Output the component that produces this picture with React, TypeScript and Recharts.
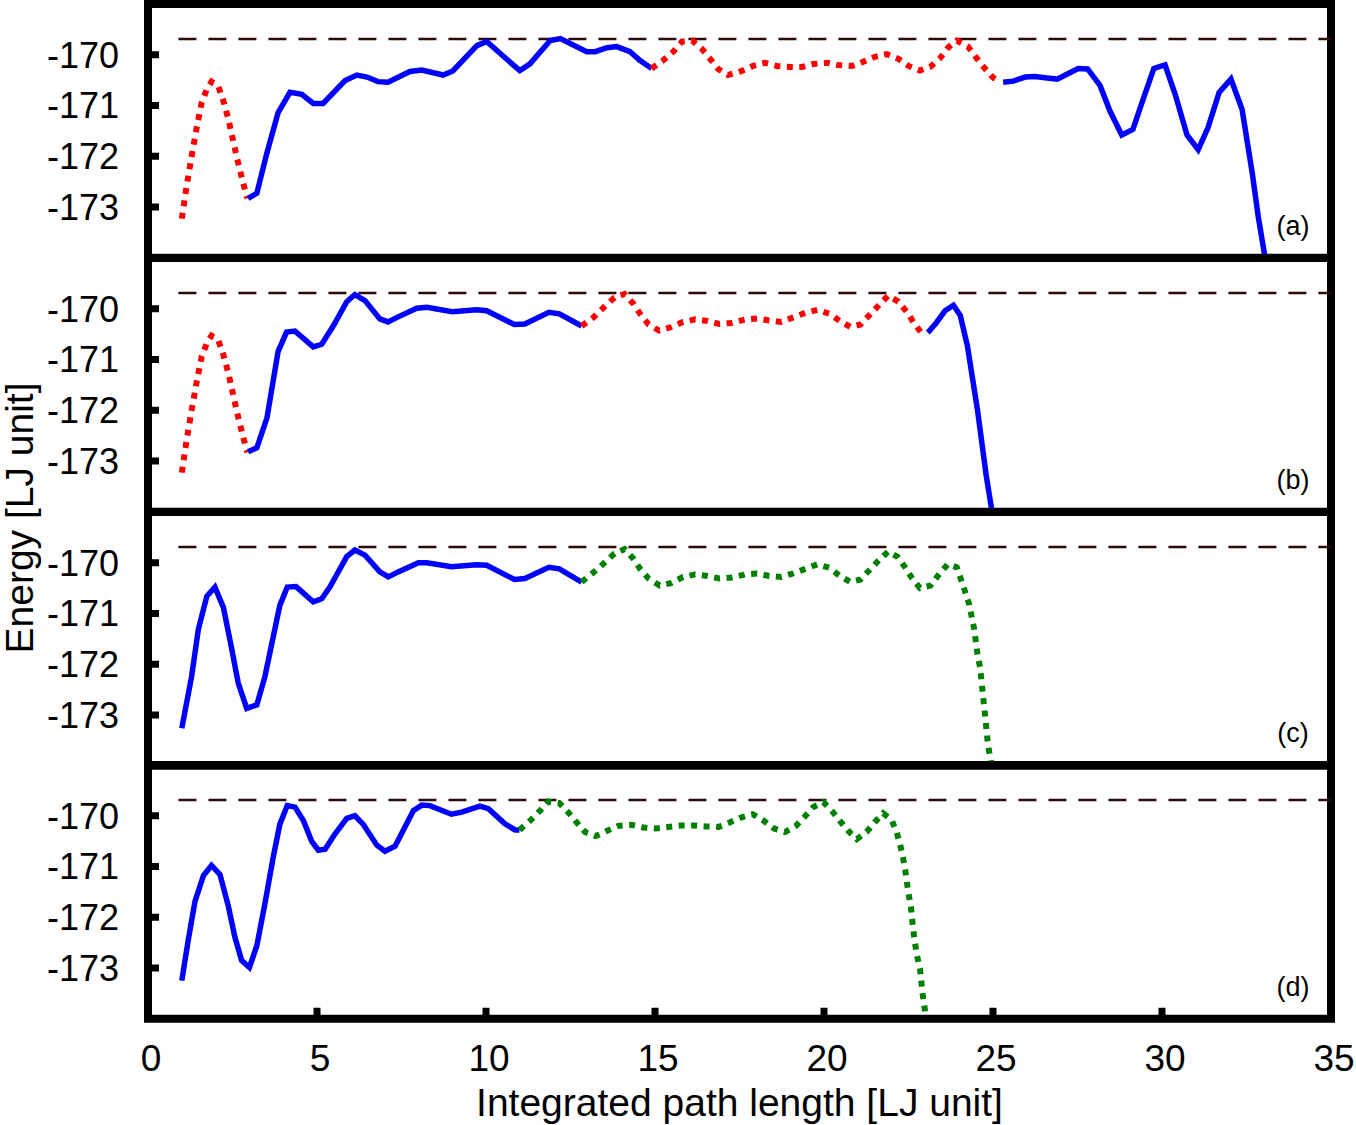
import { LineChart, Line, XAxis, YAxis, ReferenceLine, ReferenceArea } from "recharts";

type Pt = [number, number];

const X_TICKS = [0, 5, 10, 15, 20, 25, 30, 35];
const Y_TICKS = [-173, -172, -171, -170];
const Y_MIN = -174;
const Y_MAX = -169;
const BARRIER = -169.69;
const BARRIER_FROM = 0.9;

// first hump, drawn dotted in (a) and (b)
const humpRed: Pt[] = [
  [1.0, -173.23], [1.14, -172.6], [1.29, -172.0], [1.44, -171.44], [1.59, -170.94],
  [1.74, -170.68], [1.88, -170.53], [2.08, -170.62], [2.23, -170.91], [2.38, -171.27],
  [2.52, -171.7], [2.67, -172.14], [2.82, -172.54], [2.94, -172.83],
];

const aSolid1: Pt[] = [
  [2.96, -172.83], [3.22, -172.73], [3.52, -171.93], [3.85, -171.14], [4.2, -170.74],
  [4.55, -170.78], [4.89, -170.96], [5.18, -170.96], [5.83, -170.51], [6.18, -170.4],
  [6.48, -170.44], [6.8, -170.53], [7.1, -170.54], [7.75, -170.33], [8.1, -170.3],
  [8.73, -170.4], [9.02, -170.32], [9.73, -169.82], [10.02, -169.74], [10.77, -170.18],
  [11.0, -170.31], [11.3, -170.18], [11.9, -169.72], [12.2, -169.68], [12.98, -169.94],
  [13.23, -169.94], [13.58, -169.86], [13.87, -169.84], [14.26, -169.94], [14.55, -170.11],
  [14.9, -170.27],
];

const aDotted2: Pt[] = [
  [14.9, -170.27], [15.24, -170.11], [15.54, -169.94], [15.8, -169.74], [16.1, -169.72],
  [16.38, -169.88], [16.63, -170.08], [16.87, -170.28], [17.16, -170.4], [17.57, -170.32],
  [17.9, -170.22], [18.25, -170.16], [18.6, -170.22], [19.0, -170.24], [19.35, -170.24],
  [19.7, -170.18], [20.1, -170.16], [20.4, -170.2], [20.83, -170.22], [21.15, -170.14],
  [21.5, -170.04], [21.86, -169.99], [22.2, -170.08], [22.5, -170.22], [22.84, -170.31],
  [23.14, -170.24], [23.43, -170.07], [23.67, -169.86], [23.93, -169.72], [24.26, -169.84],
  [24.52, -170.07], [24.76, -170.27], [25.0, -170.45], [25.2, -170.54],
];

const aSolid2: Pt[] = [
  [25.3, -170.54], [25.6, -170.52], [25.95, -170.44], [26.24, -170.43], [26.6, -170.46],
  [26.9, -170.48], [27.2, -170.38], [27.52, -170.27], [27.8, -170.28], [28.17, -170.61],
  [28.46, -171.11], [28.81, -171.58], [29.14, -171.47], [29.44, -170.88], [29.76, -170.27],
  [30.09, -170.2], [30.39, -170.78], [30.74, -171.58], [31.07, -171.87], [31.36, -171.44],
  [31.69, -170.74], [32.04, -170.48], [32.37, -171.08], [32.67, -172.33], [32.85, -173.2],
  [33.05, -174.0],
];

const bSolid1: Pt[] = [
  [2.96, -172.82], [3.22, -172.74], [3.52, -172.15], [3.85, -170.84], [4.1, -170.46],
  [4.35, -170.44], [4.89, -170.75], [5.14, -170.7], [5.48, -170.34], [5.88, -169.86],
  [6.12, -169.72], [6.42, -169.84], [6.86, -170.2], [7.1, -170.26], [7.4, -170.16],
  [7.95, -169.99], [8.25, -169.97], [9.0, -170.06], [9.73, -170.02], [10.02, -170.04],
  [10.84, -170.31], [11.15, -170.3], [11.86, -170.07], [12.17, -170.1], [12.83, -170.34],
];

const bDotted2: Pt[] = [
  [12.83, -170.34], [13.18, -170.17], [13.49, -169.97], [13.8, -169.78], [14.1, -169.71],
  [14.36, -169.9], [14.56, -170.1], [14.81, -170.31], [15.12, -170.43], [15.48, -170.36],
  [15.83, -170.26], [16.19, -170.21], [16.55, -170.24], [16.9, -170.3], [17.26, -170.28],
  [17.67, -170.21], [18.02, -170.19], [18.38, -170.23], [18.74, -170.26], [19.09, -170.17],
  [19.45, -170.08], [19.81, -170.02], [20.16, -170.1], [20.47, -170.24], [20.78, -170.36],
  [21.08, -170.31], [21.38, -170.1], [21.64, -169.92], [21.9, -169.74], [22.2, -169.86],
  [22.46, -170.07], [22.66, -170.28], [22.91, -170.5],
];

const bSolid2: Pt[] = [
  [23.07, -170.47], [23.32, -170.28], [23.58, -170.04], [23.83, -169.93], [24.03, -170.13],
  [24.24, -170.72], [24.54, -171.99], [24.8, -173.29], [25.02, -174.2],
];

const cSolid: Pt[] = [
  [1.0, -173.26], [1.29, -172.24], [1.49, -171.31], [1.74, -170.66], [1.98, -170.48],
  [2.23, -170.88], [2.44, -171.57], [2.67, -172.37], [2.92, -172.87], [3.22, -172.8],
  [3.46, -172.24], [3.9, -170.84], [4.12, -170.48], [4.38, -170.47], [4.89, -170.77],
  [5.14, -170.71], [5.38, -170.48], [5.88, -169.88], [6.12, -169.75], [6.42, -169.85],
  [6.86, -170.18], [7.11, -170.28], [7.4, -170.18], [8.0, -170.0], [8.25, -170.0],
  [8.98, -170.08], [9.72, -170.04], [10.02, -170.05], [10.84, -170.33], [11.15, -170.31],
  [11.86, -170.09], [12.17, -170.12], [12.83, -170.38],
];

const cDotted: Pt[] = [
  [12.83, -170.38], [13.18, -170.19], [13.49, -170.01], [13.8, -169.82], [14.1, -169.73],
  [14.36, -169.92], [14.56, -170.12], [14.81, -170.31], [15.14, -170.45], [15.48, -170.4],
  [15.83, -170.28], [16.19, -170.23], [16.55, -170.26], [16.9, -170.31], [17.28, -170.29],
  [17.67, -170.23], [18.02, -170.21], [18.38, -170.26], [18.74, -170.28], [19.09, -170.21],
  [19.45, -170.12], [19.81, -170.03], [20.16, -170.1], [20.47, -170.26], [20.78, -170.38],
  [21.08, -170.33], [21.38, -170.12], [21.64, -169.94], [21.9, -169.78], [22.17, -169.88],
  [22.4, -170.09], [22.61, -170.31], [22.84, -170.5], [23.15, -170.45], [23.39, -170.24],
  [23.66, -170.03], [23.93, -170.09], [24.14, -170.5], [24.29, -170.81], [24.44, -171.29],
  [24.54, -171.8], [24.62, -172.07], [24.7, -172.59], [24.78, -173.1], [24.85, -173.58],
  [24.98, -174.09],
];

const dSolid: Pt[] = [
  [1.0, -173.25], [1.19, -172.45], [1.39, -171.69], [1.64, -171.18], [1.88, -170.98],
  [2.13, -171.16], [2.38, -171.79], [2.57, -172.39], [2.77, -172.85], [3.0, -172.99],
  [3.22, -172.56], [3.46, -171.73], [3.71, -170.8], [3.9, -170.17], [4.12, -169.8],
  [4.35, -169.83], [4.6, -170.1], [4.84, -170.5], [5.04, -170.68], [5.24, -170.66],
  [5.53, -170.36], [5.88, -170.05], [6.12, -170.0], [6.37, -170.17], [6.77, -170.58],
  [7.01, -170.7], [7.31, -170.6], [7.85, -169.9], [8.1, -169.79], [8.34, -169.8],
  [8.98, -169.97], [9.28, -169.93], [9.82, -169.81], [10.07, -169.86], [10.56, -170.16],
  [10.86, -170.28], [10.99, -170.28],
];

const dDotted: Pt[] = [
  [10.99, -170.28], [11.3, -170.1], [11.6, -169.9], [11.84, -169.72], [12.17, -169.75],
  [12.43, -169.93], [12.68, -170.13], [12.93, -170.32], [13.25, -170.4], [13.57, -170.3],
  [13.91, -170.2], [14.31, -170.18], [14.65, -170.23], [15.03, -170.25], [15.39, -170.22],
  [15.77, -170.19], [16.13, -170.19], [16.51, -170.21], [16.88, -170.22], [17.22, -170.13],
  [17.56, -170.03], [17.89, -169.97], [18.22, -170.1], [18.52, -170.25], [18.85, -170.32],
  [19.17, -170.2], [19.44, -170.01], [19.68, -169.83], [19.98, -169.73], [20.23, -169.9],
  [20.47, -170.1], [20.72, -170.3], [20.97, -170.46], [21.26, -170.32], [21.51, -170.12],
  [21.75, -169.95], [22.0, -170.08], [22.15, -170.33], [22.25, -170.56], [22.33, -170.8],
  [22.4, -171.06], [22.5, -171.53], [22.57, -171.79], [22.64, -172.26], [22.74, -172.72],
  [22.84, -173.02], [22.92, -173.52], [23.01, -173.95],
];

type Kind = "blue" | "red" | "green";

const STYLES: Record<Kind, { stroke: string; width: number; dash?: string }> = {
  blue: { stroke: "#0000ff", width: 5.5 },
  red: { stroke: "#ff0000", width: 6, dash: "6 6.5" },
  green: { stroke: "#008000", width: 6, dash: "6 6.5" },
};

const PANELS: { tag: string; series: { pts: Pt[]; kind: Kind }[] }[] = [
  {
    tag: "(a)",
    series: [
      { pts: humpRed, kind: "red" },
      { pts: aSolid1, kind: "blue" },
      { pts: aDotted2, kind: "red" },
      { pts: aSolid2, kind: "blue" },
    ],
  },
  {
    tag: "(b)",
    series: [
      { pts: humpRed, kind: "red" },
      { pts: bSolid1, kind: "blue" },
      { pts: bDotted2, kind: "red" },
      { pts: bSolid2, kind: "blue" },
    ],
  },
  {
    tag: "(c)",
    series: [
      { pts: cSolid, kind: "blue" },
      { pts: cDotted, kind: "green" },
    ],
  },
  {
    tag: "(d)",
    series: [
      { pts: dSolid, kind: "blue" },
      { pts: dDotted, kind: "green" },
    ],
  },
];

const FONT = '"Liberation Sans", Arial, Helvetica, sans-serif';
const W = 1356;
const PLOT_LEFT = 148;
const PLOT_RIGHT = 1331;
const FIRST_TOP = 4;
const PANEL_H = 253.75;
const M = 6;
const X_AXIS_H = 80;

const toRows = (pts: Pt[]) => pts.map(([x, y]) => ({ x, y }));

function Panel({ index }: { index: number }) {
  const { tag, series } = PANELS[index];
  const last = index === PANELS.length - 1;
  const top = FIRST_TOP + index * PANEL_H;
  const height = PANEL_H + 2 * M + (last ? X_AXIS_H : 0);

  return (
    <>
      <div style={{ position: "absolute", left: 0, top: top - M }}>
        <LineChart
          width={W}
          height={height}
          margin={{ top: M, right: W - PLOT_RIGHT, bottom: M, left: 0 }}
        >
          <XAxis
            type="number"
            dataKey="x"
            domain={[0, 35]}
            ticks={X_TICKS}
            interval={0}
            hide={!last}
            height={X_AXIS_H}
            allowDataOverflow
            axisLine={false}
            tickSize={-11}
            tickMargin={37}
            tickLine={{ stroke: "#000", strokeWidth: 7 }}
            tick={{ fill: "#000", fontSize: 37, dx: 3 }}
          />
          <YAxis
            type="number"
            domain={[Y_MIN, Y_MAX]}
            ticks={Y_TICKS}
            interval={0}
            width={PLOT_LEFT}
            allowDataOverflow
            axisLine={false}
            tickSize={-11}
            tickMargin={40}
            tickLine={{ stroke: "#000", strokeWidth: 7 }}
            tick={{ fill: "#000", fontSize: 36 }}
          />
          <ReferenceLine
            segment={[
              { x: BARRIER_FROM, y: BARRIER },
              { x: 35, y: BARRIER },
            ]}
            stroke="#2a0a0a"
            strokeWidth={2.5}
            strokeDasharray="18 12"
          />
          {series.map((s, i) => {
            const st = STYLES[s.kind];
            return (
              <Line
                key={i}
                data={toRows(s.pts)}
                dataKey="y"
                type="linear"
                stroke={st.stroke}
                strokeWidth={st.width}
                strokeDasharray={st.dash}
                dot={false}
                activeDot={false}
                isAnimationActive={false}
              />
            );
          })}
          <ReferenceArea
            x1={0}
            x2={35}
            y1={Y_MIN}
            y2={Y_MAX}
            fill="none"
            fillOpacity={0}
            stroke="#000"
            strokeWidth={8}
          />
        </LineChart>
      </div>
      <div
        style={{
          position: "absolute",
          left: 1293,
          top: top + PANEL_H - 32,
          transform: "translate(-50%, -50%)",
          fontSize: 27,
          lineHeight: 1,
          whiteSpace: "nowrap",
        }}
      >
        {tag}
      </div>
    </>
  );
}

export default function App() {
  return (
    <div
      style={{
        position: "absolute",
        left: 0,
        top: 0,
        width: W,
        height: 1125,
        background: "#fff",
        fontFamily: FONT,
        color: "#000",
      }}
    >
      {PANELS.map((_, i) => (
        <Panel key={i} index={i} />
      ))}
      <div
        style={{
          position: "absolute",
          left: 19,
          top: 518,
          transform: "translate(-50%, -50%) rotate(-90deg)",
          fontSize: 39,
          lineHeight: 1,
          whiteSpace: "nowrap",
        }}
      >
        Energy [LJ unit]
      </div>
      <div
        style={{
          position: "absolute",
          left: (PLOT_LEFT + PLOT_RIGHT) / 2,
          top: 1102,
          transform: "translate(-50%, -50%)",
          fontSize: 39,
          lineHeight: 1,
          whiteSpace: "nowrap",
        }}
      >
        Integrated path length [LJ unit]
      </div>
    </div>
  );
}
